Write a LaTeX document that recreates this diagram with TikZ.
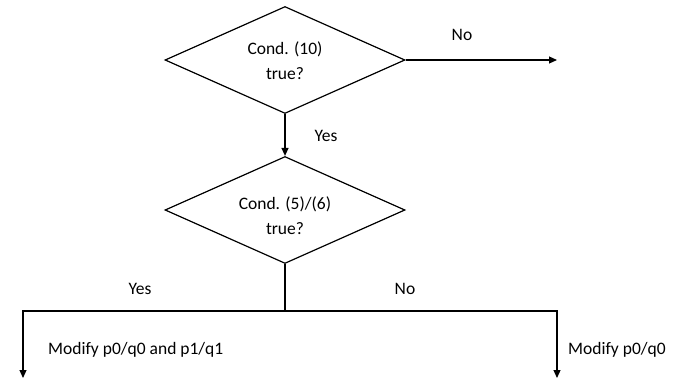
\documentclass[tikz,border=0pt]{standalone}
\usepackage{fontspec}
\setmainfont{Carlito}
\usetikzlibrary{shapes.geometric,arrows.meta}
\begin{document}
\begin{tikzpicture}[x=1pt,y=-1pt,
  cond/.style={diamond,draw,line width=1.2pt,minimum width=240pt,minimum height=107pt,inner sep=0pt},
  ctext/.style={align=center,inner sep=0pt,font=\fontsize{17.5}{25}\selectfont},
  lbl/.style={font=\fontsize{17.5}{20}\selectfont,inner sep=0pt},
  conn/.style={line width=1.2pt},
  arr/.style={conn,-{Triangle[length=8pt,width=7pt]}}]
\useasboundingbox (0,0) rectangle (699,383);
\node[cond] (d1) at (285,60) {};
\node[cond] (d2) at (285,210) {};
\node[ctext] (t1) at (285,61) {Cond. (10)\\true?};
\node[ctext] (t2) at (285,216) {Cond. (5)/(6)\\true?};
\coordinate (noend) at (557,60);
\coordinate (j) at (285,311);
\coordinate (jl) at (23,311);
\coordinate (jr) at (557,311);
\coordinate (el) at (23,378);
\coordinate (er) at (557,378);
\draw[arr] (d1.east) -- (noend);
\draw[arr] (d1.south) -- (d2.north);
\draw[conn] (d2.south) -- (j);
\draw[arr] (j) -- (jl) -- (el);
\draw[arr] (j) -- (jr) -- (er);
\node[lbl] (no1) at (462,35) {No};
\node[lbl] (yes1) at (326,136) {Yes};
\node[lbl] (yes2) at (140,289) {Yes};
\node[lbl] (no2) at (405,289) {No};
\node[lbl,anchor=west] (m1) at (48,350) {Modify p0/q0 and p1/q1};
\node[lbl,anchor=west] (m2) at (568,350) {Modify p0/q0};
\end{tikzpicture}
\end{document}
